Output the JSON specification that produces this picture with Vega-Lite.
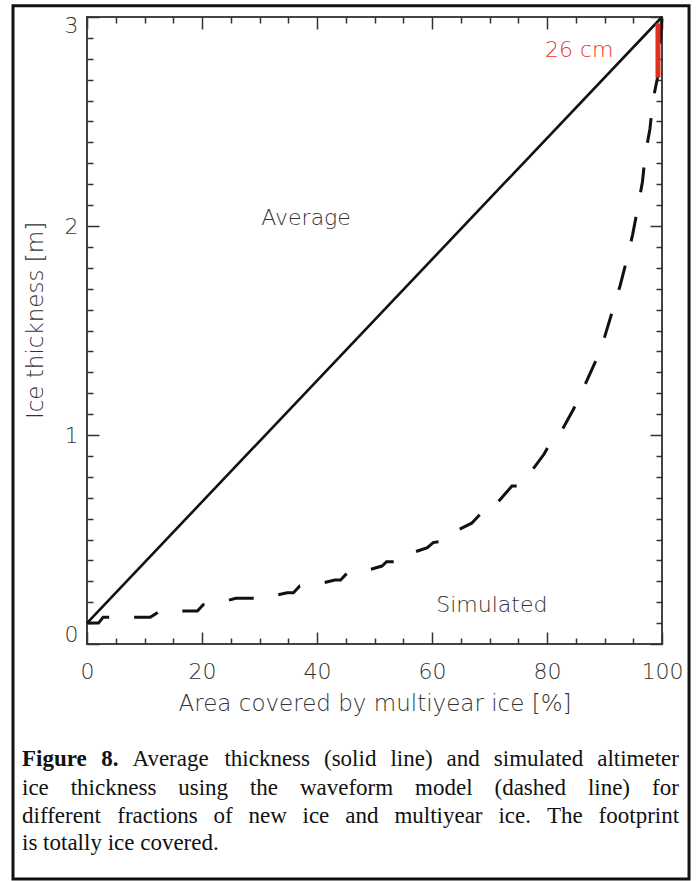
{
  "$schema": "https://vega.github.io/schema/vega-lite/v6.json",
  "width": 575,
  "height": 627,
  "autosize": {"type": "none"},
  "padding": {"left": 87, "top": 17, "right": 34, "bottom": 237},
  "background": "white",
  "datasets": {
    "avg": [{"pct": 0, "thick": 0.1}, {"pct": 100, "thick": 3.0}],
    "sim": [
      {"pct": 0, "thick": 0.1}, {"pct": 2.0, "thick": 0.1}, {"pct": 2.8, "thick": 0.128}, {"pct": 11.0, "thick": 0.128},
      {"pct": 12.7, "thick": 0.158}, {"pct": 19.2, "thick": 0.158}, {"pct": 20.2, "thick": 0.188}, {"pct": 21.7, "thick": 0.188},
      {"pct": 25.9, "thick": 0.219}, {"pct": 30.5, "thick": 0.219}, {"pct": 34.8, "thick": 0.245}, {"pct": 35.9, "thick": 0.245},
      {"pct": 37.0, "thick": 0.278}, {"pct": 38.8, "thick": 0.278}, {"pct": 43.1, "thick": 0.306}, {"pct": 44.1, "thick": 0.306},
      {"pct": 45.2, "thick": 0.338}, {"pct": 47.0, "thick": 0.338}, {"pct": 51.3, "thick": 0.373}, {"pct": 52.1, "thick": 0.394},
      {"pct": 53.6, "thick": 0.394}, {"pct": 54.9, "thick": 0.421}, {"pct": 59.2, "thick": 0.461}, {"pct": 60.2, "thick": 0.485},
      {"pct": 61.4, "thick": 0.49}, {"pct": 62.8, "thick": 0.522}, {"pct": 66.9, "thick": 0.578}, {"pct": 68.9, "thick": 0.636},
      {"pct": 70.1, "thick": 0.636}, {"pct": 73.3, "thick": 0.737}, {"pct": 73.9, "thick": 0.756}, {"pct": 75.2, "thick": 0.756},
      {"pct": 76.7, "thick": 0.805}, {"pct": 79.5, "thick": 0.909}, {"pct": 80.1, "thick": 0.939}, {"pct": 82.3, "thick": 1.008},
      {"pct": 84.6, "thick": 1.123}, {"pct": 86.5, "thick": 1.234}, {"pct": 88.5, "thick": 1.356}, {"pct": 89.1, "thick": 1.391},
      {"pct": 90.0, "thick": 1.467}, {"pct": 91.4, "thick": 1.595}, {"pct": 92.7, "thick": 1.713}, {"pct": 93.9, "thick": 1.841},
      {"pct": 94.9, "thick": 1.96}, {"pct": 95.8, "thick": 2.089}, {"pct": 96.6, "thick": 2.212}, {"pct": 97.1, "thick": 2.343},
      {"pct": 97.9, "thick": 2.464}, {"pct": 98.4, "thick": 2.598}, {"pct": 99.2, "thick": 2.707}, {"pct": 100, "thick": 3.0}
    ],
    "bar": [{"pct": 99.3, "top": 2.97, "bottom": 2.71}],
    "notes": [
      {"pct": 38.1, "thick": 2.04, "label": "Average"},
      {"pct": 70.4, "thick": 0.187, "label": "Simulated"}
    ],
    "rednote": [{"pct": 85.6, "thick": 2.84, "label": "26 cm"}],
    "capbold": [
      {"pct": -11.3, "thick": -0.584, "text": "Figure"},
      {"pct": 2.47, "thick": -0.584, "text": "8."}
    ],
    "caption": [
      {"pct": 7.91, "thick": -0.584, "text": "Average"},
      {"pct": 23.9, "thick": -0.584, "text": "thickness"},
      {"pct": 41.22, "thick": -0.584, "text": "(solid"},
      {"pct": 52.77, "thick": -0.584, "text": "line)"},
      {"pct": 62.54, "thick": -0.584, "text": "and"},
      {"pct": 70.75, "thick": -0.584, "text": "simulated"},
      {"pct": 88.73, "thick": -0.584, "text": "altimeter"},
      {"pct": -11.3, "thick": -0.722, "text": "ice"},
      {"pct": -2.83, "thick": -0.722, "text": "thickness"},
      {"pct": 15.86, "thick": -0.722, "text": "using"},
      {"pct": 28.33, "thick": -0.722, "text": "the"},
      {"pct": 37.03, "thick": -0.722, "text": "waveform"},
      {"pct": 57.06, "thick": -0.722, "text": "model"},
      {"pct": 70.87, "thick": -0.722, "text": "(dashed"},
      {"pct": 87.11, "thick": -0.722, "text": "line)"},
      {"pct": 98.28, "thick": -0.722, "text": "for"},
      {"pct": -11.3, "thick": -0.856, "text": "different"},
      {"pct": 5.27, "thick": -0.856, "text": "fractions"},
      {"pct": 21.98, "thick": -0.856, "text": "of"},
      {"pct": 28.09, "thick": -0.856, "text": "new"},
      {"pct": 37.48, "thick": -0.856, "text": "ice"},
      {"pct": 44.92, "thick": -0.856, "text": "and"},
      {"pct": 53.46, "thick": -0.856, "text": "multiyear"},
      {"pct": 71.55, "thick": -0.856, "text": "ice."},
      {"pct": 79.98, "thick": -0.856, "text": "The"},
      {"pct": 88.97, "thick": -0.856, "text": "footprint"},
      {"pct": -11.3, "thick": -0.986, "text": "is totally ice covered."}
    ],
    "frame": [{"x1": -12.87, "x2": 104.7, "y1": 3.054, "y2": -1.124}]
  },
  "layer": [
    {
      "data": {"name": "avg"},
      "mark": {"type": "line", "color": "#111", "strokeWidth": 2.6},
      "encoding": {
        "x": {"field": "pct", "type": "quantitative", "scale": {"domain": [0, 100], "nice": false, "zero": false},
          "axis": {"orient": "bottom", "values": [0, 20, 40, 60, 80, 100], "tickSize": -12, "labelPadding": 29, "labelFlush": false,
            "title": "Area covered by multiyear ice [%]", "titlePadding": 10, "titleFontSize": 23}},
        "y": {"field": "thick", "type": "quantitative", "scale": {"domain": [0, 3], "nice": false, "zero": false},
          "axis": {"orient": "left", "values": [0, 1, 2, 3], "tickSize": -12, "labelPadding": 21, "labelFlush": true, "labelFlushOffset": 2,
            "title": "Ice thickness [m]", "titlePadding": 17, "titleFontSize": 23, "titleY": 303}}
      }
    },
    {
      "data": {"name": "sim"},
      "mark": {"type": "line", "color": "#111", "strokeWidth": 3, "strokeDash": [25, 25], "strokeCap": "butt"},
      "encoding": {
        "x": {"field": "pct", "type": "quantitative",
          "axis": {"orient": "top", "values": [0, 20, 40, 60, 80, 100], "tickSize": -12, "labels": false, "title": null}},
        "y": {"field": "thick", "type": "quantitative",
          "axis": {"orient": "right", "values": [0, 1, 2, 3], "tickSize": -12, "labels": false, "title": null}}
      }
    },
    {
      "data": {"name": "bar"},
      "mark": {"type": "rule", "color": "#e0301e", "strokeWidth": 5},
      "encoding": {
        "x": {"field": "pct", "type": "quantitative",
          "axis": {"orient": "bottom", "values": [5, 10, 15, 25, 30, 35, 45, 50, 55, 65, 70, 75, 85, 90, 95], "tickSize": -6, "labels": false, "title": null}},
        "y": {"field": "top", "type": "quantitative",
          "axis": {"orient": "left", "values": [0.1, 0.2, 0.3, 0.4, 0.5, 0.6, 0.7, 0.8, 0.9, 1.1, 1.2, 1.3, 1.4, 1.5, 1.6, 1.7, 1.8, 1.9, 2.1, 2.2, 2.3, 2.4, 2.5, 2.6, 2.7, 2.8, 2.9], "tickSize": -6, "labels": false, "title": null}},
        "y2": {"field": "bottom"}
      }
    },
    {
      "data": {"name": "notes"},
      "mark": {"type": "text", "font": "DejaVu Sans", "fontSize": 22, "fontWeight": 300, "color": "#333", "align": "center", "baseline": "middle"},
      "encoding": {
        "x": {"field": "pct", "type": "quantitative",
          "axis": {"orient": "top", "values": [5, 10, 15, 25, 30, 35, 45, 50, 55, 65, 70, 75, 85, 90, 95], "tickSize": -6, "labels": false, "title": null}},
        "y": {"field": "thick", "type": "quantitative",
          "axis": {"orient": "right", "values": [0.1, 0.2, 0.3, 0.4, 0.5, 0.6, 0.7, 0.8, 0.9, 1.1, 1.2, 1.3, 1.4, 1.5, 1.6, 1.7, 1.8, 1.9, 2.1, 2.2, 2.3, 2.4, 2.5, 2.6, 2.7, 2.8, 2.9], "tickSize": -6, "labels": false, "title": null}},
        "text": {"field": "label"}
      }
    },
    {
      "data": {"name": "rednote"},
      "mark": {"type": "text", "font": "DejaVu Sans", "fontSize": 22, "fontWeight": 300, "color": "#e8352a", "align": "center", "baseline": "middle"},
      "encoding": {
        "x": {"field": "pct", "type": "quantitative", "axis": null},
        "y": {"field": "thick", "type": "quantitative", "axis": null},
        "text": {"field": "label"}
      }
    },
    {
      "data": {"name": "capbold"},
      "mark": {"type": "text", "font": "Liberation Serif", "fontSize": 23, "fontWeight": "bold", "color": "#111", "align": "left", "baseline": "alphabetic"},
      "encoding": {
        "x": {"field": "pct", "type": "quantitative", "axis": null},
        "y": {"field": "thick", "type": "quantitative", "axis": null},
        "text": {"field": "text"}
      }
    },
    {
      "data": {"name": "caption"},
      "mark": {"type": "text", "font": "Liberation Serif", "fontSize": 23, "color": "#111", "align": "left", "baseline": "alphabetic"},
      "encoding": {
        "x": {"field": "pct", "type": "quantitative", "axis": null},
        "y": {"field": "thick", "type": "quantitative", "axis": null},
        "text": {"field": "text"}
      }
    },
    {
      "data": {"name": "frame"},
      "mark": {"type": "rect", "fill": null, "stroke": "#111", "strokeWidth": 3},
      "encoding": {
        "x": {"field": "x1", "type": "quantitative", "axis": null},
        "x2": {"field": "x2"},
        "y": {"field": "y1", "type": "quantitative", "axis": null},
        "y2": {"field": "y2"}
      }
    }
  ],
  "resolve": {"axis": {"x": "independent", "y": "independent"}},
  "config": {
    "view": {"stroke": "#444", "strokeWidth": 2},
    "axis": {
      "grid": false, "domain": false, "tickColor": "#333", "tickWidth": 1.5,
      "labelFont": "DejaVu Sans", "labelFontSize": 22, "labelFontWeight": 300, "labelColor": "#333",
      "titleFont": "DejaVu Sans", "titleFontSize": 22, "titleFontWeight": 300, "titleColor": "#333"
    }
  }
}
